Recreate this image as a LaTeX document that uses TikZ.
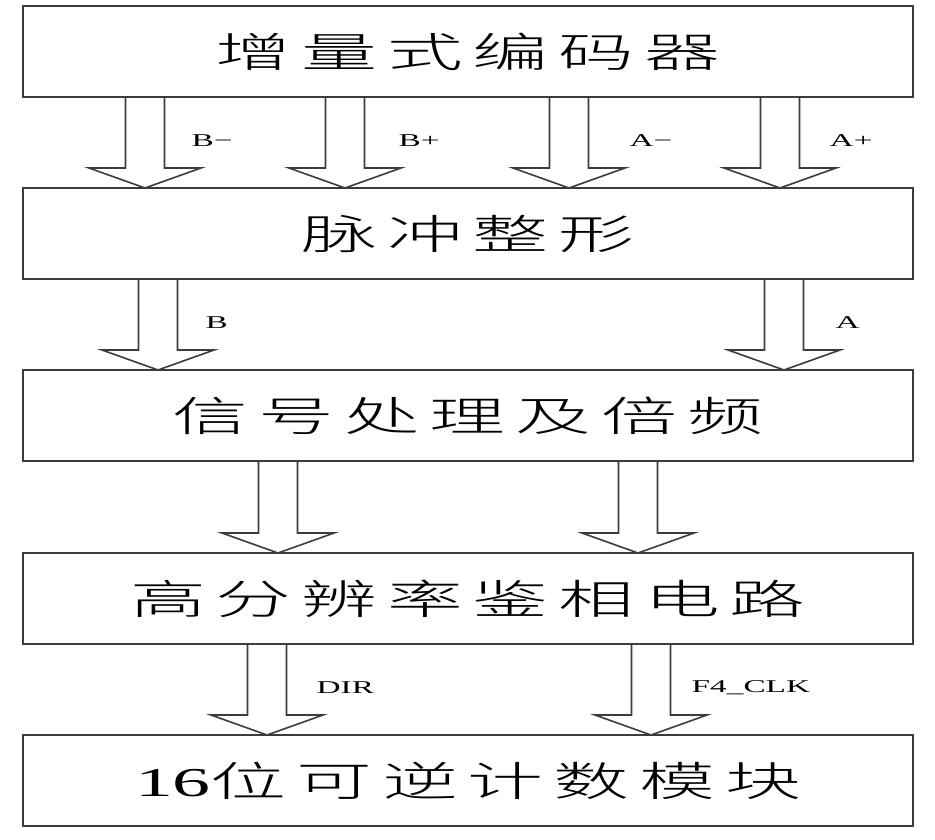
\documentclass[tikz,border=0pt]{standalone}
\usepackage{fontspec}
\setmainfont{Liberation Serif}
\newfontfamily\cjk[LetterSpace=13]{Noto Sans CJK SC Light}
\usepackage{graphicx}
\usepackage{tikz}
\usetikzlibrary{calc}
\definecolor{linecolor}{HTML}{3C3C3C}
\newcommand{\wide}[1]{\scalebox{1.85}[1]{#1}}
% #1 from, #2 to, #3 x offset, #4 label, #5 label gap, #6 label name
\newcommand{\flowarrow}[6]{%
    \draw[flowline] ($(#1.south)+(#3-19.5, 0)$) -- ($(#2.north)+(#3-19.5, -20)$)
        -- ($(#2.north)+(#3-56, -20)$) -- ($(#2.north)+(#3, 0)$)
        -- ($(#2.north)+(#3+56, -20)$) -- ($(#2.north)+(#3+19.5, -20)$)
        -- ($(#1.south)+(#3+19.5, 0)$);
    \node[siglabel] (#6) at ($(#1.south)+(#3+19.5+#5, 44)$) {\wide{#4}};
}

\begin{document}
\begin{tikzpicture}[x=1pt, y=-1pt]
    \tikzset{%
        blockbox/.style={draw=linecolor, line width=1.6pt, minimum width=890pt, minimum height=91pt,
                inner sep=0pt, outer sep=0pt, font=\cjk\fontsize{41}{41}\selectfont},
        flowline/.style={draw=linecolor, line width=1.6pt},
        siglabel/.style={anchor=west, inner sep=0pt, font=\fontsize{18}{18}\selectfont},
    }
    \useasboundingbox (0, 0) rectangle (935, 839);

    % blocks
    \node[blockbox] (encoder) at (468, 51.5) {\wide{增量式编码器}};
    \node[blockbox] (shaping) at (468, 233.5) {\wide{脉冲整形}};
    \node[blockbox] (multiply) at (468, 415.5) {\wide{信号处理及倍频}};
    \node[blockbox] (phase) at (468, 598.5) {\wide{高分辨率鉴相电路}};
    \node[blockbox] (counter) at (468, 780.5) {\wide{{\rmfamily 16}位可逆计数模块}};

    % encoder outputs
    \flowarrow{encoder}{shaping}{-323}{B−}{27}{sigBm}
    \flowarrow{encoder}{shaping}{-123}{B+}{34}{sigBp}
    \flowarrow{encoder}{shaping}{101}{A−}{41}{sigAm}
    \flowarrow{encoder}{shaping}{312}{A+}{30}{sigAp}
    % shaped pulses
    \flowarrow{shaping}{multiply}{-310}{B}{28}{sigB}
    \flowarrow{shaping}{multiply}{316}{A}{32}{sigA}
    % multiplied signals
    \flowarrow{multiply}{phase}{-190}{}{0}{sigL}
    \flowarrow{multiply}{phase}{170}{}{0}{sigR}
    % counter inputs
    \flowarrow{phase}{counter}{-201}{DIR}{30}{sigDir}
    \flowarrow{phase}{counter}{183}{F4\_CLK}{21}{sigClk}
\end{tikzpicture}
\end{document}
